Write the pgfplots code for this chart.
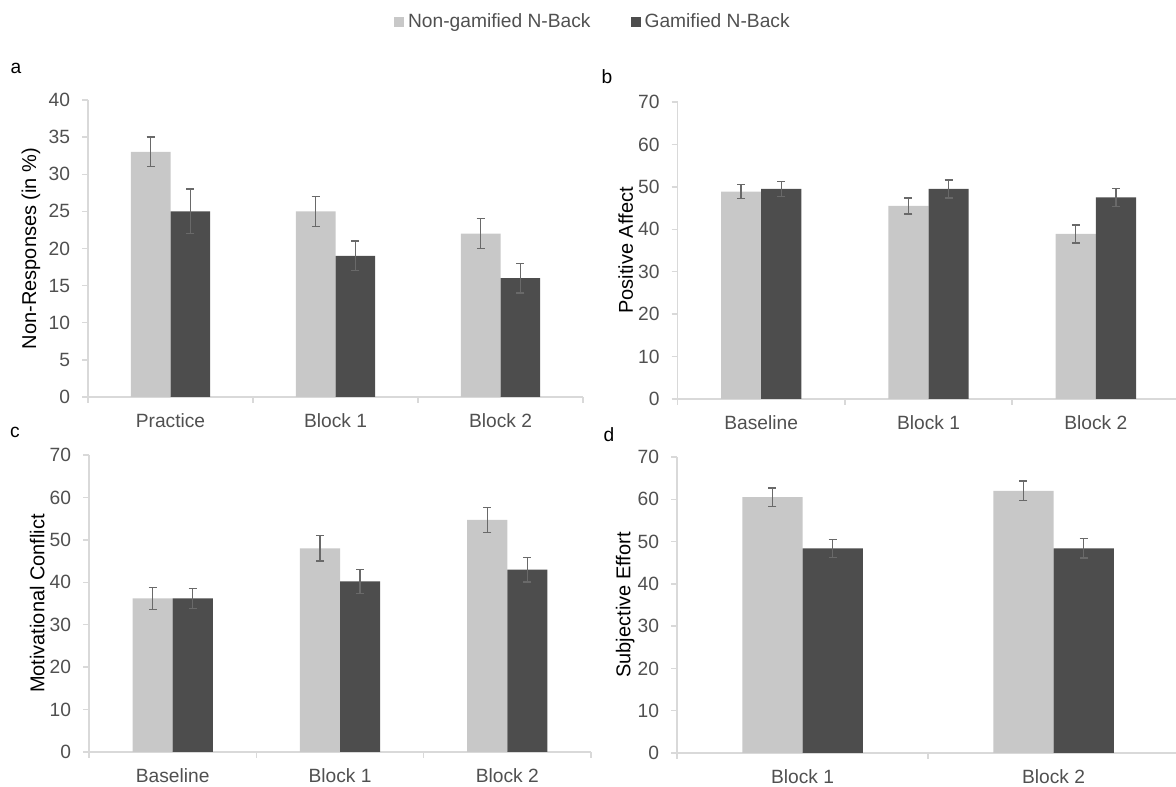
\documentclass[border=0pt]{standalone}
\usepackage{fontspec}
\setmainfont{Liberation Sans}
\usepackage{pgfplots}
\pgfplotsset{compat=1.18}
\definecolor{lightbar}{RGB}{200,200,200}
\definecolor{darkbar}{RGB}{77,77,77}
\definecolor{axisgray}{RGB}{217,217,217}
\definecolor{txtgray}{RGB}{80,80,80}
\definecolor{errgray}{RGB}{105,105,105}
\newcommand{\ff}{\fontsize{9.6}{11}\selectfont}
\pgfplotsset{
  panel/.style={
    scale only axis,
    anchor=south west,
    ybar,
    bar width=0.24,
    ymin=0,
    axis x line*=bottom, axis y line*=left,
    axis line style={draw=axisgray, line width=0.7pt, -},
    tick align=outside,
    major tick length=3pt,
    every tick/.style={draw=axisgray, line width=0.7pt},
    xticklabels={},
    extra x tick style={major tick length=0pt},
    tick label style={font=\ff, text=txtgray},
    /pgf/number format/assume math mode=true,
    yticklabel style={xshift=-2.5pt},
    xticklabel style={yshift=-5pt},
    label style={font=\ff, text=txtgray},
    every axis y label/.style={at={(axis description cs:-0.103,0.5)}, rotate=90, anchor=center},
    legend image code/.code={\fill[##1] (0pt,-2.5pt) rectangle (5pt,2.5pt);},
  },
  lightplot/.style={fill=lightbar, draw=none, bar shift=-0.12,
    error bars/.cd, y dir=both, y explicit,
    error bar style={draw=errgray, line width=0.65pt},
    error mark options={rotate=90, draw=errgray, mark size=2pt, line width=0.65pt}},
  darkplot/.style={fill=darkbar, draw=none, bar shift=0.12,
    error bars/.cd, y dir=both, y explicit,
    error bar style={draw=errgray, line width=0.65pt},
    error mark options={rotate=90, draw=errgray, mark size=2pt, line width=0.65pt}},
}
\begin{document}
\begin{tikzpicture}
\path[use as bounding box] (0pt,0pt) rectangle (588pt,393pt);

% Panel a
\begin{axis}[panel, at={(44pt,194.5pt)}, width=247.5pt, height=148.5pt,
  xmin=-0.5, xmax=2.5, ymax=40, ytick={0,5,...,40},
  xtick={-0.5,0.5,1.5,2.5},
  extra x ticks={0,1,2}, extra x tick labels={Practice,Block 1,Block 2},
  ylabel={Non-Responses (in \%)},
  every axis y label/.style={at={(axis description cs:-0.115,0.5)}, rotate=90, anchor=center},
  legend columns=2,
  legend style={at={(rel axis cs:1.022,1.263)}, anchor=center, draw=none, fill=none,
    font=\ff, text=txtgray, /tikz/every even column/.append style={column sep=18pt}},
]
\addplot[lightplot] coordinates {(0,33) +- (0,2) (1,25) +- (0,2) (2,22) +- (0,2)};
\addlegendentry{Non-gamified N-Back}
\addplot[darkplot] coordinates {(0,25) +- (0,3) (1,19) +- (0,2) (2,16) +- (0,2)};
\addlegendentry{Gamified N-Back}
\end{axis}

% Panel b
\begin{axis}[panel, at={(338.75pt,193.5pt)}, width=251pt, height=148.5pt,
  xmin=-0.5, xmax=2.5, ymax=70, ytick={0,10,...,70},
  xtick={-0.5,0.5,1.5,2.5},
  extra x ticks={0,1,2}, extra x tick labels={Baseline,Block 1,Block 2},
  ylabel={Positive Affect},
]
\addplot[lightplot] coordinates {(0,48.9) +- (0,1.7) (1,45.5) +- (0,1.9) (2,38.9) +- (0,2.1)};
\addplot[darkplot] coordinates {(0,49.5) +- (0,1.7) (1,49.5) +- (0,2.1) (2,47.5) +- (0,2.1)};
\end{axis}

% Panel c
\begin{axis}[panel, at={(44.5pt,17pt)}, width=251pt, height=148.5pt,
  xmin=-0.5, xmax=2.5, ymax=70, ytick={0,10,...,70},
  xtick={-0.5,0.5,1.5,2.5},
  extra x ticks={0,1,2}, extra x tick labels={Baseline,Block 1,Block 2},
  ylabel={Motivational Conflict},
]
\addplot[lightplot] coordinates {(0,36.2) +- (0,2.6) (1,48) +- (0,3) (2,54.7) +- (0,2.9)};
\addplot[darkplot] coordinates {(0,36.2) +- (0,2.3) (1,40.2) +- (0,2.8) (2,43) +- (0,2.9)};
\end{axis}

% Panel d
\begin{axis}[panel, at={(338.5pt,16.5pt)}, width=251pt, height=148pt,
  xmin=-0.5, xmax=1.5, ymax=70, ytick={0,10,...,70},
  xtick={-0.5,0.5,1.5},
  extra x ticks={0,1}, extra x tick labels={Block 1,Block 2},
  ylabel={Subjective Effort},
]
\addplot[lightplot] coordinates {(0,60.5) +- (0,2.2) (1,62) +- (0,2.3)};
\addplot[darkplot] coordinates {(0,48.4) +- (0,2.1) (1,48.4) +- (0,2.3)};
\end{axis}

\node[font=\ff, text=black] at (8pt,359pt) {a};
\node[font=\ff, text=black] at (303.5pt,354.5pt) {b};
\node[font=\ff, text=black] at (7.5pt,177pt) {c};
\node[font=\ff, text=black] at (304.5pt,175.5pt) {d};
\end{tikzpicture}
\end{document}
